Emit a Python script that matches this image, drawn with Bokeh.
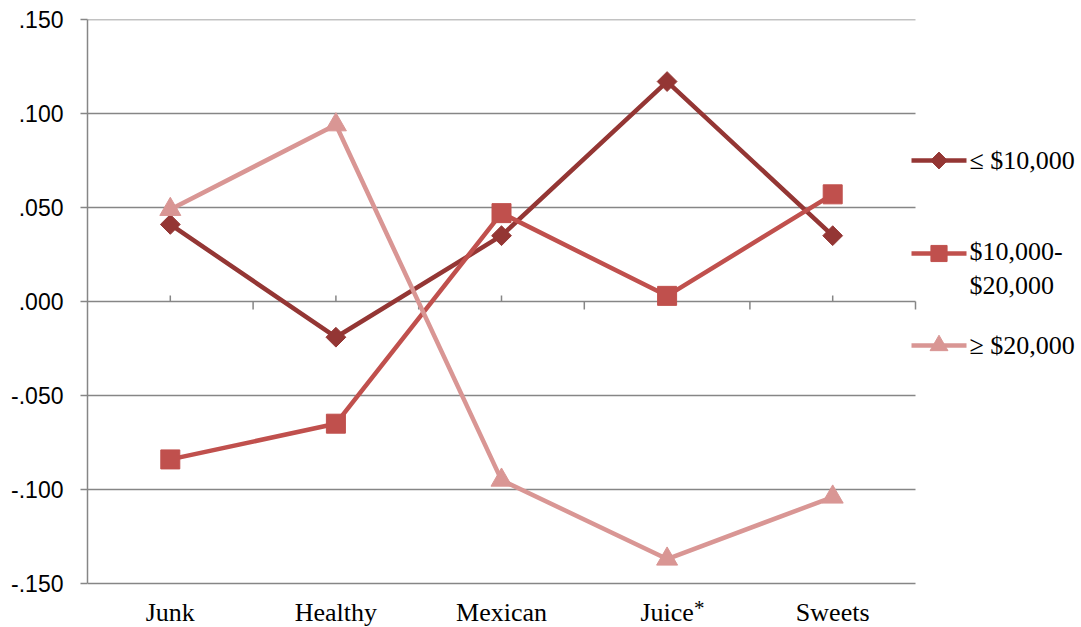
import numpy as np
from bokeh.plotting import figure
from bokeh.models import Range1d, FixedTicker
from bokeh.core.properties import value
from bokeh.embed import file_html
from bokeh.resources import INLINE

# ---- data ----
categories = ["Junk", "Healthy", "Mexican", "Juice", "Sweets"]
series_names = ["≤ $10,000", "$10,000-\n$20,000", "≥ $20,000"]
low_income = [0.041, -0.019, 0.035, 0.117, 0.035]
mid_income = [-0.084, -0.065, 0.047, 0.003, 0.057]
high_income = [0.049, 0.094, -0.095, -0.137, -0.104]
y_ticks = [-0.15, -0.1, -0.05, 0.0, 0.05, 0.1, 0.15]
y_tick_labels = ["-.150", "-.100", "-.050", ".000", ".050", ".100", ".150"]

# ---- layout ----
W, H = 1081, 627
LEFT, TOP, BOTTOM = 87, 19, 44
BAND = 165.6                      # pixels per category slot
X_END = (W - LEFT) / BAND         # frame runs to the right edge; legend sits inside
Y_MIN, Y_MAX = -0.15, 0.15
PX_PER_Y = (H - TOP - BOTTOM) / (Y_MAX - Y_MIN)
Y_FLOOR = Y_MIN - BOTTOM / PX_PER_Y   # frame reaches the bottom edge; category names sit inside

GRID = "#868686"
SERIF = "Liberation Serif"
SANS = "Liberation Sans"
colors = ["#943634", "#C0504D", "#D99694"]
markers = [("square", np.pi / 4, 14), ("square", 0, 19), ("triangle", 0, 21)]
LINE_W = 4.5

n = len(categories)
xs = [i + 0.5 for i in range(n)]


def px_x(px):
    return (px - LEFT) / BAND


def px_y(py):
    return Y_MAX - (py - TOP) / PX_PER_Y


p = figure(width=W, height=H, output_backend="svg", toolbar_location=None,
           x_range=Range1d(0, X_END), y_range=Range1d(Y_FLOOR, Y_MAX),
           min_border_left=LEFT, min_border_right=0,
           min_border_top=TOP, min_border_bottom=0,
           x_axis_location=None,
           background_fill_color="white", border_fill_color="white")
p.outline_line_color = None
p.xgrid.visible = False
p.ygrid.visible = False

# y axis
p.yaxis.bounds = (Y_MIN, Y_MAX)
p.yaxis.ticker = FixedTicker(ticks=y_ticks)
p.yaxis.major_label_overrides = dict(zip(y_ticks, y_tick_labels))
p.yaxis.axis_line_color = GRID
p.yaxis.axis_line_width = 1.5
p.yaxis.major_tick_line_color = GRID
p.yaxis.major_tick_line_width = 1.5
p.yaxis.major_tick_out = 7
p.yaxis.major_tick_in = 0
p.yaxis.minor_tick_line_color = None
p.yaxis.major_label_standoff = 17
p.yaxis.major_label_text_font = SANS
p.yaxis.major_label_text_font_size = "23px"
p.yaxis.major_label_text_color = "black"

# horizontal gridlines across the category area
p.segment(x0=[0] * len(y_ticks), x1=[n] * len(y_ticks), y0=y_ticks, y1=y_ticks,
          line_color=GRID, line_width=1.5)

# tick marks on the zero line: up at category centres, down at slot boundaries
up = 6 / PX_PER_Y
down = 8 / PX_PER_Y
p.segment(x0=xs, x1=xs, y0=[0] * n, y1=[up] * n, line_color=GRID, line_width=1.5)
bounds = list(range(1, n + 1))
p.segment(x0=bounds, x1=bounds, y0=[0] * n, y1=[-down] * n,
          line_color=GRID, line_width=1.5)

# category names under the plot
p.text(xs, [px_y(612)] * n, text=categories, text_font=value(SERIF),
       text_font_size="26px", text_baseline="middle", text_align="center",
       text_color="black")
# superscript asterisk on "Juice"
juice_x = xs[categories.index("Juice")]
p.text([juice_x + 27 / BAND], [px_y(607)], text=["*"], text_font=value(SERIF),
       text_font_size="21px", text_baseline="alphabetic", text_align="left",
       text_color="black")

# series
for vals, col, (mk, ang, sz) in zip([low_income, mid_income, high_income], colors, markers):
    p.line(xs, vals, line_color=col, line_width=LINE_W)
    p.scatter(xs, vals, marker=mk, angle=ang, size=sz, fill_color=col, line_color=col)

# legend in the right margin of the frame
leg_rows = [160, 253, 345]
text_rows = [160, 268, 345]
for name, col, (mk, ang, sz), ry, ty in zip(series_names, colors, markers, leg_rows, text_rows):
    y = px_y(ry)
    p.line([px_x(911), px_x(966)], [y, y], line_color=col, line_width=LINE_W)
    p.scatter([px_x(938.5)], [y], marker=mk, angle=ang, size=sz * 0.85,
              fill_color=col, line_color=col)
    p.text([px_x(969)], [px_y(ty)], text=[name], text_font=value(SERIF),
           text_font_size="26px", text_baseline="middle", text_align="left",
           text_color="black", text_line_height=1.17)

open("out.html", "w").write(file_html(p, INLINE))
